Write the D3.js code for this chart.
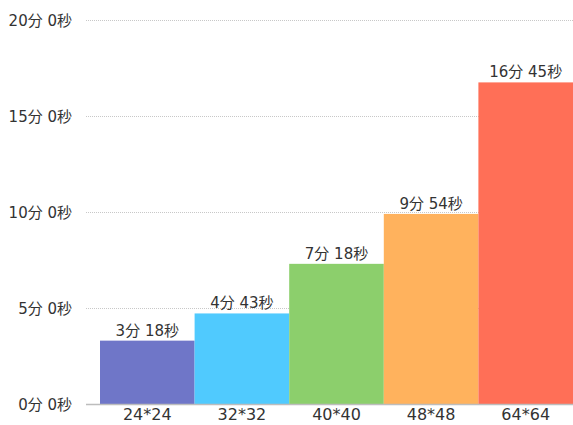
<!DOCTYPE html>
<html><head><meta charset="utf-8">
<script src="https://cdn.jsdelivr.net/npm/d3@7"></script>
<style>
html,body{margin:0;padding:0;background:#fff;}
svg text{font-family:"DejaVu Sans","Noto Sans CJK JP",sans-serif;}
</style></head>
<body>
<svg id="chart" width="573" height="425"></svg>
<script>
const categories = ["24*24","32*32","40*40","48*48","64*64"];
const seconds = [198, 283, 438, 594, 1005];
const colors = ["#6f76c8","#50cafe","#8ccf6c","#ffb25d","#ff6f57"];
const yTicks = [0, 300, 600, 900, 1200];

const fmt = s => Math.floor(s/60) + "分 " + (s%60) + "秒";

const svg = d3.select("#chart");
const x = d3.scaleBand().domain(categories).range([100, 573]).padding(0);
const y = d3.scaleLinear().domain([0, 1200]).range([404, 20]);

// grid
svg.append("g").selectAll("line").data(yTicks.slice(1)).join("line")
  .attr("x1", 86).attr("x2", 573)
  .attr("y1", d => y(d)+0.5).attr("y2", d => y(d)+0.5)
  .attr("stroke", "#c8c8c8").attr("stroke-width", 1).attr("stroke-dasharray", "1,1");

// y axis labels
const yAxis = d3.axisLeft(y).tickValues(yTicks).tickFormat(fmt).tickSize(0).tickPadding(0);
const ya = svg.append("g").attr("transform", "translate(72,0)").call(yAxis);
ya.select(".domain").remove();
ya.selectAll("text").attr("font-size", 15).attr("fill", "#333").attr("dy", "0.35em");

// bars
svg.append("g").selectAll("rect").data(categories).join("rect")
  .attr("x", d => x(d)).attr("width", x.bandwidth())
  .attr("y", (d,i) => y(seconds[i])).attr("height", (d,i) => y(0) - y(seconds[i]))
  .attr("fill", (d,i) => colors[i]);

// value labels
svg.append("g").selectAll("text").data(categories).join("text")
  .attr("x", d => x(d) + x.bandwidth()/2).attr("y", (d,i) => y(seconds[i]) - 5)
  .attr("text-anchor", "middle").attr("font-size", 15).attr("fill", "#333")
  .text((d,i) => fmt(seconds[i]));

// baseline
svg.append("line").attr("x1", 86).attr("x2", 573).attr("y1", 404.5).attr("y2", 404.5)
  .attr("stroke", "#bdbdbd").attr("stroke-width", 1.5);

// x axis
const xAxis = d3.axisBottom(x).tickSize(0).tickPadding(0);
const xa = svg.append("g").attr("transform", "translate(0,0)").call(xAxis);
xa.select(".domain").remove();
xa.selectAll("text").attr("font-size", 16).attr("fill", "#333").attr("y", 420).attr("dy", null);
</script>
</body></html>
